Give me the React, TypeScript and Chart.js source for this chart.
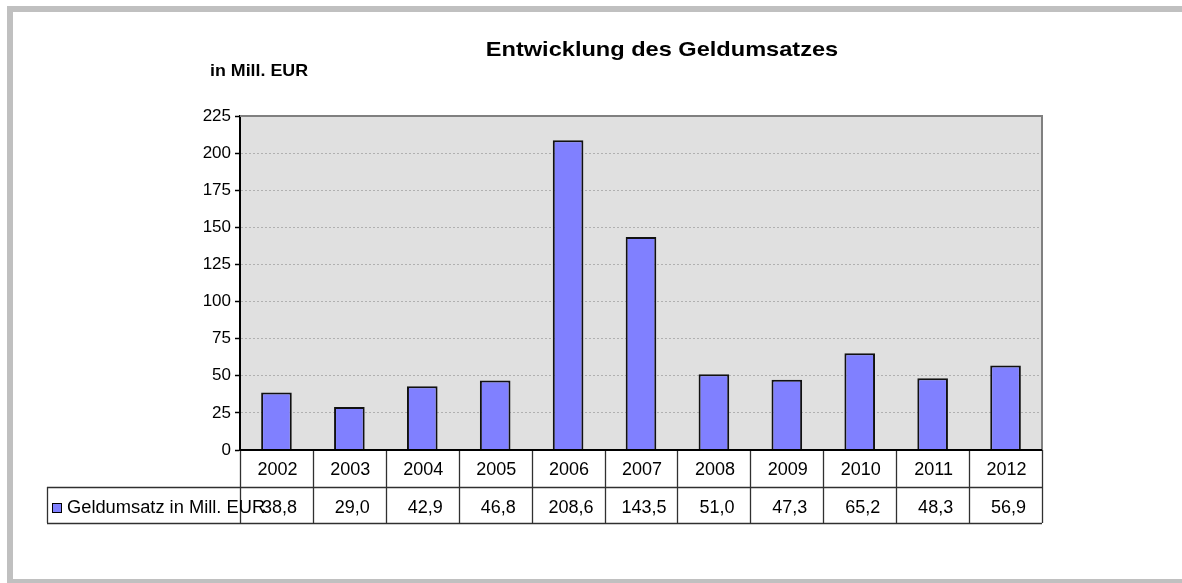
import React, { useEffect, useRef } from "react";
import { Chart, registerables } from "chart.js";

Chart.register(...registerables);

const categories = ["2002", "2003", "2004", "2005", "2006", "2007", "2008", "2009", "2010", "2011", "2012"];
const values = [38.8, 29.0, 42.9, 46.8, 208.6, 143.5, 51.0, 47.3, 65.2, 48.3, 56.9];
const seriesName = "Geldumsatz in Mill. EUR";
const titleText = "Entwicklung des Geldumsatzes";
const unitText = "in Mill. EUR";
const yMin = 0;
const yMax = 225;
const yStep = 25;

const FONT = "'Liberation Sans', Arial, Helvetica, sans-serif";
const BAR_FILL = "#8080ff";

const fmt = (v: number) => v.toFixed(1).replace(".", ",");

const decorPlugin = {
  id: "decor",
  beforeDraw(chart: any) {
    const { ctx, chartArea } = chart;
    const W = chart.width;
    const H = chart.height;
    ctx.save();
    ctx.fillStyle = "#ffffff";
    ctx.fillRect(0, 0, W, H);
    ctx.fillStyle = "#c0c0c0";
    ctx.fillRect(7, 6, W - 7, 6);
    ctx.fillRect(7, 6, 6, H - 6);
    ctx.fillRect(7, 579, W - 7, 6);
    ctx.fillStyle = "#e0e0e0";
    ctx.fillRect(chartArea.left, chartArea.top, chartArea.right - chartArea.left, chartArea.bottom - chartArea.top);
    ctx.restore();
  },
  beforeDatasetsDraw(chart: any) {
    const { ctx, chartArea } = chart;
    ctx.save();
    ctx.strokeStyle = "#808080";
    ctx.lineWidth = 2;
    ctx.beginPath();
    ctx.moveTo(chartArea.left, chartArea.top);
    ctx.lineTo(chartArea.right, chartArea.top);
    ctx.lineTo(chartArea.right, chartArea.bottom);
    ctx.stroke();
    ctx.restore();
  },
  afterDatasetsDraw(chart: any) {
    const { ctx, chartArea } = chart;
    const xs = chart.scales.x;
    const n = categories.length;
    const left = chartArea.left;
    const right = chartArea.right;
    const top = chartArea.bottom;
    const row1 = top + 37;
    const row2 = top + 73;
    const legendLeft = 47;
    const half = (xs.getPixelForValue(1) - xs.getPixelForValue(0)) / 2;

    ctx.save();
    ctx.strokeStyle = "#303030";
    ctx.lineWidth = 1.3;
    ctx.beginPath();
    for (let i = 0; i <= n; i++) {
      const x = i < n ? xs.getPixelForValue(i) - half : xs.getPixelForValue(n - 1) + half;
      ctx.moveTo(Math.round(x) + 0.5, top);
      ctx.lineTo(Math.round(x) + 0.5, row2);
    }
    ctx.moveTo(legendLeft, row1 + 0.5);
    ctx.lineTo(right, row1 + 0.5);
    ctx.moveTo(legendLeft, row2 + 0.5);
    ctx.lineTo(right, row2 + 0.5);
    ctx.moveTo(legendLeft + 0.5, row1);
    ctx.lineTo(legendLeft + 0.5, row2);
    ctx.stroke();

    ctx.strokeStyle = "#000000";
    ctx.lineWidth = 2;
    ctx.beginPath();
    ctx.moveTo(left, top);
    ctx.lineTo(right, top);
    ctx.stroke();

    ctx.fillStyle = "#000000";
    ctx.font = `18px ${FONT}`;
    ctx.textAlign = "center";
    ctx.textBaseline = "alphabetic";
    for (let i = 0; i < n; i++) {
      const cx = xs.getPixelForValue(i) + 1;
      ctx.fillText(categories[i], cx, top + 25);
      ctx.fillText(fmt(values[i]), cx + 2, row1 + 26);
    }

    ctx.fillStyle = BAR_FILL;
    ctx.fillRect(52, 503, 10, 10);
    ctx.strokeStyle = "#000";
    ctx.lineWidth = 1;
    ctx.strokeRect(52.5, 503.5, 9, 9);
    ctx.fillStyle = "#000";
    ctx.textAlign = "left";
    ctx.save();
    ctx.font = `18.3px ${FONT}`;
    ctx.fillText(seriesName, 67, 513);
    ctx.restore();

    ctx.save();
    ctx.font = `bold 20.5px ${FONT}`;
    ctx.textAlign = "center";
    ctx.translate(662, 55.5);
    ctx.scale(1.15, 1);
    ctx.fillText(titleText, 0, 0);
    ctx.restore();

    ctx.save();
    ctx.font = `bold 16.5px ${FONT}`;
    ctx.textAlign = "left";
    ctx.translate(210, 75.5);
    ctx.scale(1.08, 1);
    ctx.fillText(unitText, 0, 0);
    ctx.restore();

    ctx.restore();
  },
};

export default function App() {
  const ref = useRef<HTMLCanvasElement | null>(null);

  useEffect(() => {
    document.body.style.margin = "0";
    const canvas = ref.current;
    if (!canvas) return;
    const chart = new Chart(canvas, {
      type: "bar",
      data: {
        labels: categories,
        datasets: [
          {
            label: seriesName,
            data: values,
            backgroundColor: BAR_FILL,
            borderColor: "#111111",
            borderWidth: 2,
            barPercentage: 0.42,
            categoryPercentage: 1,
          },
        ],
      },
      options: {
        animation: false,
        responsive: false,
        devicePixelRatio: 1,
        layout: { padding: { left: 0, top: 116, right: 140, bottom: 133 } },
        plugins: {
          legend: { display: false },
          tooltip: { enabled: false },
          title: { display: false },
        },
        scales: {
          x: {
            display: false,
            offset: true,
            grid: { display: false },
          },
          y: {
            min: yMin,
            max: yMax,
            afterFit: (scale: any) => {
              scale.width = 240;
            },
            ticks: {
              stepSize: yStep,
              padding: 4,
              color: "#000000",
              font: { family: FONT, size: 17 },
            },
            grid: {
              color: "#b0b0b0",
              tickColor: "#000000",
              tickLength: 5,
              tickBorderDash: [],
              lineWidth: 1,
              tickWidth: 1.5,
            },
            border: { display: true, color: "#000000", width: 2, dash: [2, 2] },
          },
        },
      },
      plugins: [decorPlugin],
    });
    return () => chart.destroy();
  }, []);

  return (
    <canvas
      ref={ref}
      width={1182}
      height={583}
      style={{ display: "block", position: "absolute", left: 0, top: 0, width: 1182, height: 583 }}
    />
  );
}
